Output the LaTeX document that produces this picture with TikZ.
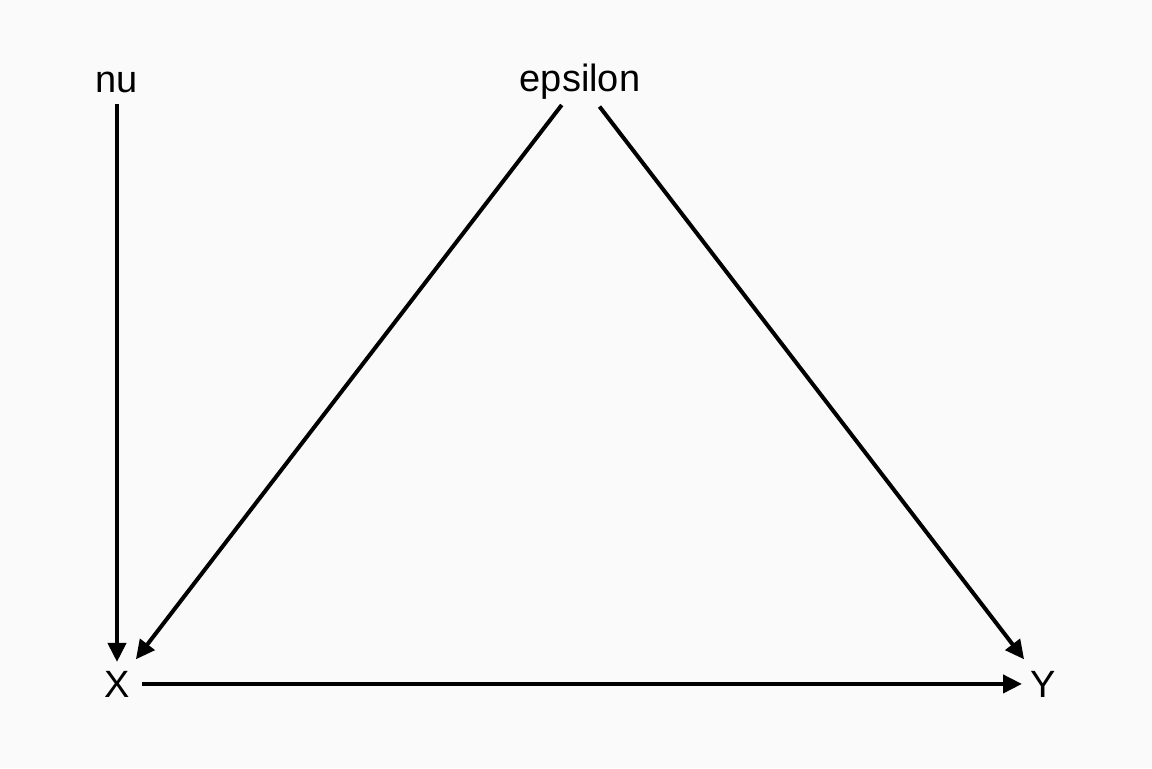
\documentclass[tikz,border=0pt]{standalone}
\usepackage{fontspec}
\setmainfont{Liberation Sans}
\usetikzlibrary{arrows.meta}
\definecolor{bg}{HTML}{FAFAFA}
\begin{document}
\begin{tikzpicture}[x=0.5pt,y=-0.5pt,
  lbl/.style={inner sep=0pt,anchor=base,font=\fontsize{19}{22}\selectfont},
  conn/.style={line width=2pt,-{Triangle[length=9.5pt,width=9pt]}}]
\fill[bg] (0,0) rectangle (1152,768);
\useasboundingbox (0,0) rectangle (1152,768);
\node[lbl] (nu) at (117,92) {nu};
\node[lbl] (eps) at (580,91) {epsilon};
\node[lbl] (X) at (117,697) {X};
\node[lbl] (Y) at (1043,697) {Y};
\draw[conn,shorten <=11pt,shorten >=11pt] (nu.center) -- (nu.center |- X.center);
\draw[conn,shorten <=15pt,shorten >=15.5pt] (eps.center) -- (X.center);
\draw[conn,shorten <=16pt,shorten >=15.5pt] (eps.center) -- (Y.center);
\draw[conn,shorten <=12.5pt,shorten >=10.5pt] (X.center) -- (Y.center);
\end{tikzpicture}
\end{document}
